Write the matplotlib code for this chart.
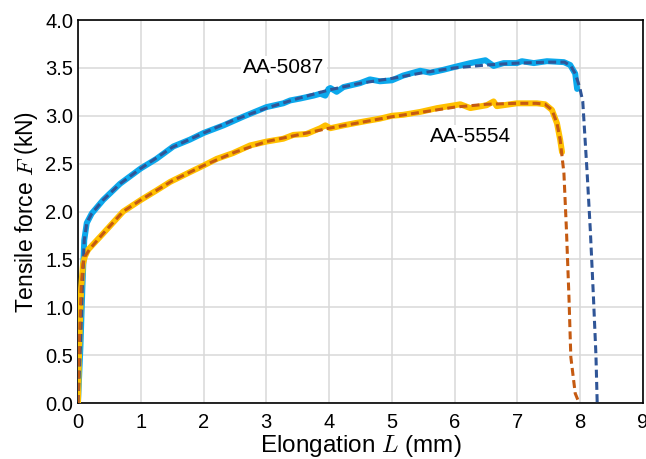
import matplotlib
matplotlib.use("Agg")
import matplotlib.pyplot as plt

plt.rcParams["font.family"] = ["Liberation Sans", "DejaVu Sans"]
plt.rcParams["mathtext.fontset"] = "cm"

# AA-5087 measured curve (solid) and fit (dashed)
x_5087 = [0, 0.04, 0.07, 0.085, 0.10, 0.14, 0.22, 0.40, 0.67, 1.0, 1.25, 1.52, 1.78, 2.0,
          2.32, 2.63, 3.0, 3.27, 3.38, 3.54, 3.75, 3.86, 3.94, 3.99, 4.02, 4.12, 4.23, 4.49,
          4.65, 4.81, 5.0, 5.18, 5.45, 5.61, 5.82, 6.0, 6.25, 6.49, 6.62, 6.78, 6.99, 7.07,
          7.26, 7.47, 7.74, 7.84, 7.92, 7.95]
y_5087 = [0, 0.6, 1.2, 1.45, 1.70, 1.88, 1.98, 2.12, 2.29, 2.45, 2.55, 2.68, 2.75, 2.82,
          2.90, 2.99, 3.09, 3.13, 3.16, 3.18, 3.21, 3.23, 3.21, 3.28, 3.29, 3.25, 3.30, 3.34,
          3.38, 3.36, 3.37, 3.42, 3.47, 3.45, 3.48, 3.51, 3.55, 3.58, 3.52, 3.55, 3.55, 3.57,
          3.55, 3.57, 3.56, 3.53, 3.44, 3.28]
xf_5087 = [0, 0.04, 0.07, 0.085, 0.10, 0.14, 0.22, 0.40, 0.67, 1.0, 1.5, 2.0, 2.5, 3.0,
           3.5, 4.0, 4.5, 5.0, 5.5, 6.0, 6.5, 7.0, 7.5, 7.75, 7.85, 7.92, 7.99, 8.04, 8.11,
           8.16, 8.21, 8.25, 8.27]
yf_5087 = [0, 0.6, 1.2, 1.45, 1.70, 1.88, 1.98, 2.12, 2.29, 2.45, 2.67, 2.82, 2.96, 3.08,
           3.18, 3.27, 3.34, 3.39, 3.45, 3.50, 3.53, 3.55, 3.56, 3.56, 3.52, 3.44, 3.30, 3.15,
           2.40, 1.81, 1.11, 0.50, 0.0]

# AA-5554 measured curve (solid) and fit (dashed)
x_5554 = [0, 0.02, 0.05, 0.08, 0.11, 0.16, 0.40, 0.72, 1.0, 1.25, 1.47, 1.78, 2.0, 2.21,
          2.47, 2.74, 3.0, 3.27, 3.43, 3.64, 3.86, 3.94, 4.02, 4.23, 4.39, 4.55, 4.81, 5.0,
          5.18, 5.45, 5.72, 6.0, 6.09, 6.25, 6.51, 6.62, 6.67, 6.99, 7.31, 7.44, 7.55, 7.63,
          7.68, 7.71]
y_5554 = [0, 0.6, 1.2, 1.45, 1.53, 1.60, 1.77, 2.0, 2.12, 2.22, 2.31, 2.41, 2.48, 2.55,
          2.61, 2.69, 2.73, 2.76, 2.80, 2.81, 2.87, 2.90, 2.87, 2.90, 2.92, 2.94, 2.97, 3.00,
          3.01, 3.04, 3.08, 3.11, 3.12, 3.08, 3.11, 3.15, 3.10, 3.13, 3.13, 3.12, 3.06, 2.92,
          2.75, 2.62]
xf_5554 = [0, 0.02, 0.05, 0.08, 0.11, 0.19, 0.40, 0.72, 1.0, 1.5, 2.0, 2.5, 3.0, 3.5, 4.0,
           4.5, 5.0, 5.5, 6.0, 6.5, 7.0, 7.3, 7.44, 7.55, 7.63, 7.68, 7.74, 7.78, 7.82, 7.85,
           7.92, 7.97]
yf_5554 = [0, 0.6, 1.2, 1.45, 1.53, 1.61, 1.77, 2.0, 2.12, 2.32, 2.48, 2.62, 2.73, 2.80,
           2.87, 2.93, 2.99, 3.04, 3.09, 3.12, 3.13, 3.13, 3.12, 3.06, 2.92, 2.75, 2.40, 1.81,
           1.11, 0.48, 0.10, 0.02]

fig = plt.figure(figsize=(6.46, 4.59), dpi=100)
ax = fig.add_axes([0.1207, 0.122, 0.8747, 0.8344])

ax.plot(x_5087, y_5087, color="#0BA8EC", linewidth=4.3, solid_capstyle="round", zorder=3)
ax.plot(xf_5087, yf_5087, color="#2F5597", linewidth=2.2, dashes=(2.6, 1.4), zorder=4)
ax.plot(x_5554, y_5554, color="#FFC000", linewidth=4.3, solid_capstyle="round", zorder=3)
ax.plot(xf_5554, yf_5554, color="#C55A11", linewidth=2.2, dashes=(2.6, 1.4), zorder=4)

ax.text(3.28, 3.5, "AA-5087", fontsize=15, ha="center", va="center", zorder=5,
        bbox=dict(facecolor="white", edgecolor="none", pad=1.5))
ax.text(6.26, 2.78, "AA-5554", fontsize=15, ha="center", va="center", zorder=5,
        bbox=dict(facecolor="white", edgecolor="none", pad=1.5))

ax.set_xlim(0, 9)
ax.set_ylim(0, 4)
ax.set_xticks(range(0, 10))
ax.set_yticks([0, 0.5, 1.0, 1.5, 2.0, 2.5, 3.0, 3.5, 4.0])
ax.set_yticklabels(["0.0", "0.5", "1.0", "1.5", "2.0", "2.5", "3.0", "3.5", "4.0"])
ax.tick_params(axis="both", length=0, labelsize=14.5)
ax.tick_params(axis="x", pad=7)
ax.tick_params(axis="y", pad=3.5)

ax.grid(color="#d9d9d9", linewidth=1.1)
ax.set_axisbelow(True)
for s in ax.spines.values():
    s.set_linewidth(1.2)
    s.set_color("black")

ax.set_xlabel("Elongation $L$ (mm)", fontsize=17.5, labelpad=1)
ax.set_ylabel("Tensile force $F$ (kN)", fontsize=16.5, labelpad=4)

fig.savefig("out.png", dpi=100)
